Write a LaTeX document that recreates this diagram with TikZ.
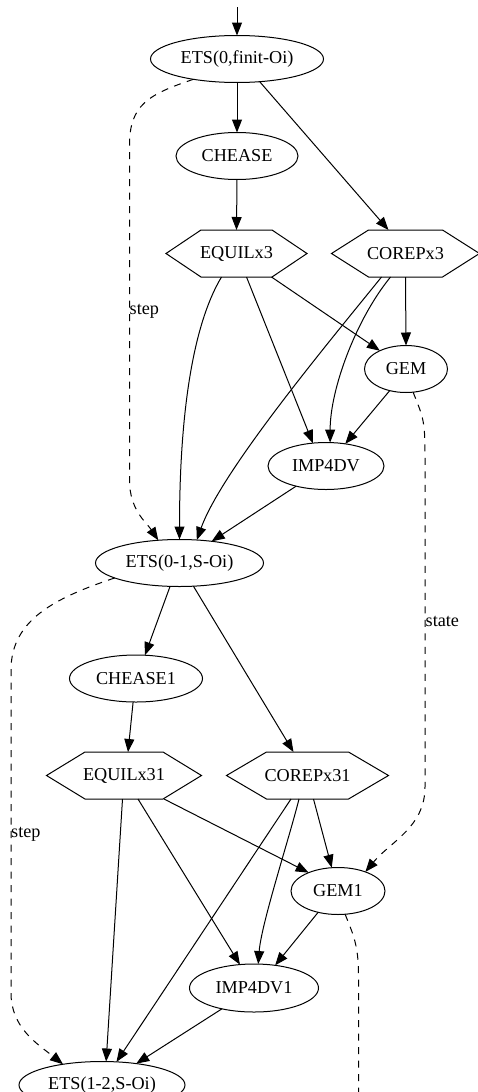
\documentclass[tikz,border=0pt]{standalone}
\usepackage{fontspec}
\setmainfont{Liberation Serif}
\usetikzlibrary{shapes.geometric,arrows.meta}
\begin{document}
\begin{tikzpicture}[x=1pt,y=-1pt,
  every node/.style={font=\fontsize{18.2}{21}\selectfont},
  oval/.style={draw, ellipse, inner sep=0pt, outer sep=0pt, line width=1pt, minimum height=47pt},
  hexa/.style={inner sep=0pt, outer sep=0pt, minimum height=47pt},
  link/.style={line width=1pt, -{Triangle[length=13pt,width=10pt]}},
  dlink/.style={link, dash pattern=on 7pt off 6.5pt},
  plain/.style={line width=1pt, dash pattern=on 7pt off 6.5pt},
  lab/.style={anchor=west, inner sep=0pt}
]
\clip (0,0) rectangle (478,1092);

% first step
\coordinate (entry) at (237,7);
\node[oval, minimum width=173pt] (ets0) at (237,59) {ETS(0,finit-Oi)};
\node[oval, minimum width=122pt] (ch) at (237,156) {CHEASE};
\node[hexa, minimum width=141pt] (eq) at (236.5,253.5) {EQUILx3};
\node[hexa, minimum width=148pt] (cp) at (405.5,253.5) {COREPx3};
\node[oval, minimum width=83pt] (gem) at (406,369) {GEM};
\node[oval, minimum width=116pt] (imp) at (326,466) {IMP4DV};

% second step
\node[oval, minimum width=168pt] (ets1) at (179.5,563) {ETS(0-1,S-Oi)};
\node[oval, minimum width=133pt] (ch1) at (136,678.5) {CHEASE1};
\node[hexa, minimum width=155pt] (eq1) at (124,775.5) {EQUILx31};
\node[hexa, minimum width=162pt] (cp1) at (307.5,775.5) {COREPx31};
\node[oval, minimum width=94pt] (gem1) at (338,891) {GEM1};
\node[oval, minimum width=129pt, minimum height=48pt] (imp1) at (254,988) {IMP4DV1};

% third step
\node[oval, minimum width=166pt] (ets2) at (102,1085) {ETS(1-2,S-Oi)};

% hexagon outlines around the code-coupling nodes
\foreach \n/\d in {eq/35, cp/37, eq1/38.5, cp1/40}
  \draw[line width=1pt] (\n.west) -- ([xshift=\d pt]\n.north west) -- ([xshift=-\d pt]\n.north east)
    -- (\n.east) -- ([xshift=-\d pt]\n.south east) -- ([xshift=\d pt]\n.south west) -- cycle;

% edge labels
\node[lab] (stepA) at (129.5,311) {step};
\node[lab] (stateA) at (425.5,621) {state};
\node[lab] (stepB) at (11,834) {step};

% connectors, first step
\draw[link] (entry) -- (ets0.north);
\draw[link] (ets0.south) -- (ch.north);
\draw[link] (ets0.-45) -- ([xshift=-17pt]cp.north);
\draw[link] (ch.south) -- (eq.north);
\draw[link] ([xshift=35pt]eq.south) -- (gem.145);
\draw[link] ([xshift=10pt]eq.south) -- (imp.120);
\draw[link] ([xshift=-15pt]eq.south) .. controls +(-30,50) and +(0,-120) .. (ets1.north);
\draw[link] (cp.south) -- (gem.north);
\draw[link] ([xshift=-15pt]cp.south) .. controls +(-35,43) and +(0,-53) .. (imp.80);
\draw[link] ([xshift=-24pt]cp.south) .. controls +(-50,62) and +(25,-70) .. (ets1.53);
\draw[link] (gem.-127) -- (imp.49);
\draw[link] (imp.-146) -- (ets1.34);
\draw[dlink] (ets0.-155) .. controls +(-45,15) and +(0,-40) .. (129.5,145) -- (129.5,480)
  .. controls +(0,30) and +(-12,-18) .. (ets1.133);
\draw[dlink] (gem.-73) .. controls +(10,25) and +(0,-35) .. (425,455) -- (425,787)
  .. controls +(0,40) and +(25,-30) .. (gem1.35);

% connectors, second step
\draw[link] (ets1.-112) -- (ch1.69);
\draw[link] (ets1.-59) -- ([xshift=-14pt]cp1.north);
\draw[link] (ch1.-97) -- ([xshift=4pt]eq1.north);
\draw[link] ([xshift=40pt]eq1.south) -- (gem1.148);
\draw[link] ([xshift=14pt]eq1.south) -- (imp1.121);
\draw[link] ([xshift=-1.5pt]eq1.south) -- (ets2.80);
\draw[link] ([xshift=6pt]cp1.south) -- (gem1.105);
\draw[link] ([xshift=-8.5pt]cp1.south) .. controls +(-10,40) and +(3,-40) .. (imp1.80);
\draw[link] ([xshift=-16.5pt]cp1.south) .. controls +(-30,45) and +(40,-60) .. (ets2.58);
\draw[link] (gem1.-133) -- (imp1.47);
\draw[link] (imp1.-147) -- (ets2.32);
\draw[dlink] (ets1.-167) .. controls +(-60,20) and +(0,-50) .. (11,670) -- (11,993)
  .. controls +(0,35) and +(-25,-20) .. (ets2.152);
\draw[plain] (gem1.-73) .. controls +(8,20) and +(0,-30) .. (358.5,975) -- (358.5,1092);
\end{tikzpicture}
\end{document}
